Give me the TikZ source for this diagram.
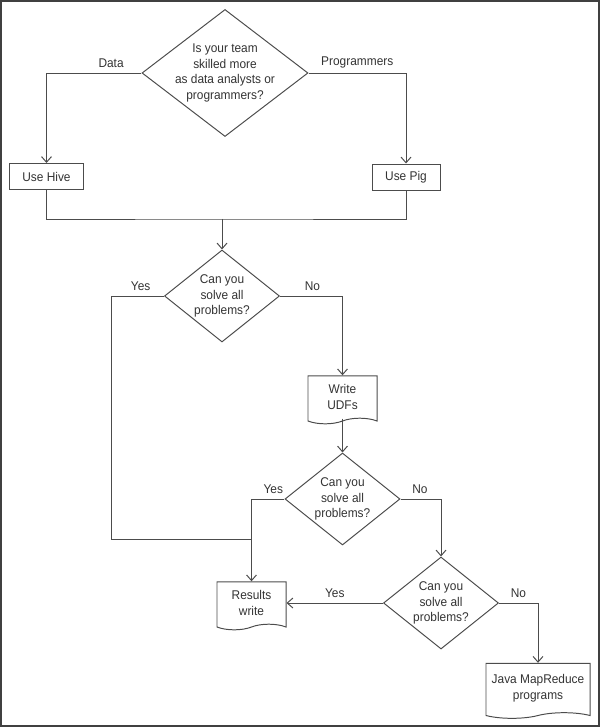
\documentclass[tikz,border=0pt]{standalone}
\usepackage{fontspec}
\setmainfont[FakeStretch=0.94]{Liberation Sans}
\usepackage{tikz}
\usetikzlibrary{shapes.geometric, shapes.symbols, arrows.meta}
\definecolor{garis}{gray}{0.3}
\tikzstyle{process} = [rectangle, minimum width=1.7cm, minimum height=0.65cm, text centered, draw=garis, line width=0.7pt]
\tikzstyle{decision} = [diamond, minimum width=2.875cm, minimum height=2.3cm, inner sep=0pt, draw=garis, line width=0.7pt]
\tikzstyle{docbox} = [tape, tape bend top=none, tape bend bottom=in and out, tape bend height=4pt, minimum width=1.725cm, minimum height=1.2cm, align=center, draw=garis, line width=0.7pt]
\tikzstyle{plain} = [draw=garis, line width=0.7pt]
\tikzstyle{arrow} = [draw=garis, line width=0.7pt, -{Straight Barb[length=4pt,width=7pt]}]

\begin{document}
\begin{tikzpicture}[x=0.025cm, y=-0.025cm, font=\fontsize{9}{11}\selectfont, text=black!80]
        \useasboundingbox (0,0) rectangle (600,727);
        \draw [draw=black!75, line width=1.4pt] (1,1) rectangle (599,726);

        \node (team-skill) [decision, minimum width=4.15cm, minimum height=3.175cm, label={[align=center]center:Is your team\\skilled more\\as data analysts or\\programmers?}] at (225,73) {};
        \node (use-hive) [process, minimum width=1.825cm] at (46.5,176.5) {Use Hive};
        \node (use-pig) [process] at (406,177) {Use Pig};
        \coordinate (merge) at (222,219);
        \node (solve-1) [decision, label={[align=center]center:Can you\\solve all\\problems?}] at (222,296) {};
        \coordinate (yes-corner) at (111,539);
        \node (write-udf) [docbox] at (342.5,397) {Write\\UDFs};
        \node (solve-2) [decision, label={[align=center]center:Can you\\solve all\\problems?}] at (342.5,499) {};
        \node (results-write) [docbox] at (251.5,603) {Results\\write};
        \node (solve-3) [decision, label={[align=center]center:Can you\\solve all\\problems?}] at (441,603) {};
        \node (java-mr) [docbox, minimum width=2.6cm, minimum height=1.375cm] at (538,688) {Java MapReduce\\programs};

        \draw [arrow] (team-skill.west) -| node[anchor=south, pos=0.16] {Data} (use-hive.north);
        \draw [arrow] (team-skill.east) -| node[anchor=south, pos=0.25] {Programmers} (use-pig.north);
        \draw [plain] (use-hive.south) |- (merge) -| (use-pig.south);
        \draw [arrow] (merge) -- (solve-1.north);
        \draw [plain] (solve-1.west) -| node[anchor=south, pos=0.22] {Yes} (yes-corner) -- (yes-corner -| results-write.north);
        \draw [arrow] (solve-1.east) -| node[anchor=south, pos=0.26] {No} (write-udf.north);
        \draw [arrow] (write-udf.south) -- (solve-2.north);
        \draw [arrow] (solve-2.west) -| node[anchor=south, pos=0.17] {Yes} (results-write.north);
        \draw [arrow] (solve-2.east) -| node[anchor=south, pos=0.24] {No} (solve-3.north);
        \draw [arrow] (solve-3.west) -- node[anchor=south] {Yes} (results-write.east);
        \draw [arrow] (solve-3.east) -| node[anchor=south, pos=0.25] {No} (java-mr.north);
    \end{tikzpicture}
\end{document}
